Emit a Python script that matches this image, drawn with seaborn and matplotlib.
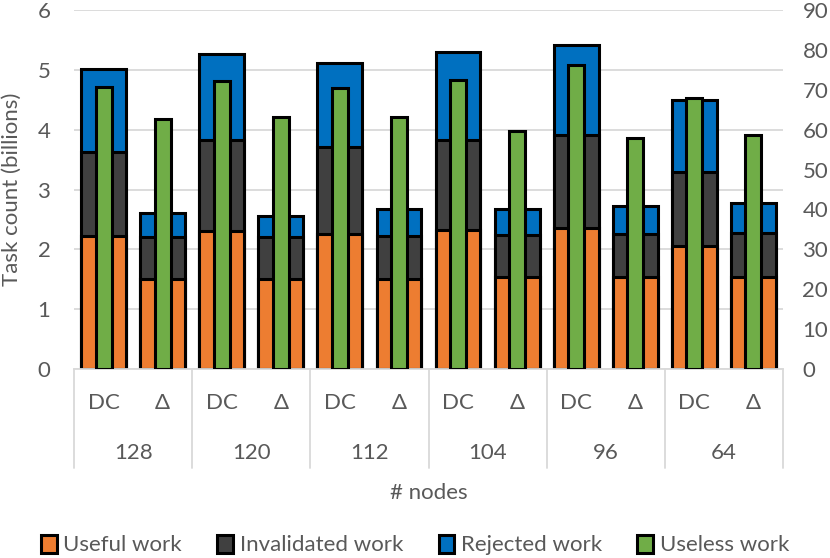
import matplotlib
matplotlib.use("Agg")
import numpy as np
import pandas as pd
import matplotlib.pyplot as plt
import seaborn as sns
from matplotlib.patches import Patch
from matplotlib.transforms import blended_transform_factory

# data
nodes = ["128", "120", "112", "104", "96", "64"]
methods = ["DC", "Δ"]
useful = [2.23, 1.51, 2.31, 1.51, 2.26, 1.51, 2.32, 1.53, 2.35, 1.53, 2.05, 1.54]
invalidated = [1.40, 0.69, 1.51, 0.70, 1.45, 0.72, 1.50, 0.71, 1.56, 0.73, 1.25, 0.74]
rejected = [1.38, 0.40, 1.45, 0.34, 1.40, 0.45, 1.47, 0.43, 1.50, 0.47, 1.20, 0.50]
useless_pct = [70.6, 62.7, 72.3, 63.1, 70.4, 63.3, 72.4, 59.7, 76.3, 58.0, 67.9, 58.7]

labels = [f"{n} {m}" for n in nodes for m in methods]
df = pd.DataFrame({
    "label": labels,
    "useful": useful,
    "invalidated": invalidated,
    "rejected": rejected,
    "useless": useless_pct,
})
df["lvl2"] = df["useful"] + df["invalidated"]
df["lvl3"] = df["lvl2"] + df["rejected"]

C_USEFUL = "#ED7D31"
C_INVAL = "#404040"
C_REJ = "#0070C0"
C_USELESS = "#70AD47"
TXT = "#595959"
GRID = "#D9D9D9"
FS = 16

sns.set_theme(style="white")
plt.rcParams["font.family"] = ["Lato", "DejaVu Sans"]

fig = plt.figure(figsize=(8.3, 5.58), dpi=100)
ax = fig.add_axes([74 / 830, 1 - 369 / 558, (783 - 74) / 830, (369 - 10) / 558])

# stacked bars: draw cumulative totals back to front
bar_kw = dict(x="label", order=labels, width=0.76, edgecolor="black",
              linewidth=2.2, saturation=1, ax=ax)
sns.barplot(data=df, y="lvl3", color=C_REJ, **bar_kw)
sns.barplot(data=df, y="lvl2", color=C_INVAL, **bar_kw)
sns.barplot(data=df, y="useful", color=C_USEFUL, **bar_kw)

ax.set_ylim(0, 6)
ax.set_xlim(-0.5, len(labels) - 0.5)
ax.set_yticks(np.arange(0, 7, 1))
ax.yaxis.grid(True, color=GRID, lw=1.3)
ax.set_axisbelow(True)
for s in ax.spines.values():
    s.set_visible(False)
ax.spines["bottom"].set_visible(True)
ax.spines["bottom"].set_color(GRID)
ax.spines["bottom"].set_linewidth(1.3)
ax.tick_params(axis="y", length=0, pad=17, labelsize=FS, labelcolor=TXT)
ax.set_xticks([])
ax.set_xlabel("")
ax.set_ylabel("Task count (billions)", fontsize=FS, color=TXT)
ax.yaxis.set_label_coords(-(74 - 22) / 709, 0.5)

# useless work on the secondary axis
ax2 = ax.twinx()
sns.barplot(data=df, x="label", y="useless", order=labels, width=0.27,
            color=C_USELESS, edgecolor="black", linewidth=2.2, saturation=1, ax=ax2)
ax2.set_ylim(0, 90)
ax2.set_xlim(-0.5, len(labels) - 0.5)
ax2.set_yticks(np.arange(0, 91, 10))
for s in ax2.spines.values():
    s.set_visible(False)
ax2.tick_params(axis="y", length=0, pad=14, labelsize=FS, labelcolor=TXT)
ax2.set_ylabel("")
ax2.set_xlabel("")
ax2.set_xticks([])

# two-level category axis
trans = blended_transform_factory(ax.transData, ax.transAxes)
for i, lab in enumerate(labels):
    ax.text(i, -0.095, lab.split(" ")[1], transform=trans, ha="center", va="center",
            fontsize=FS, color=TXT)
for g, n in enumerate(nodes):
    ax.text(2 * g + 0.5, -0.234, n, transform=trans, ha="center", va="center",
            fontsize=FS, color=TXT)
for g in range(len(nodes) + 1):
    xg = 2 * g - 0.5
    ax.plot([xg, xg], [0, -0.276], transform=trans, color=GRID, lw=1.3, clip_on=False)
ax.text(0.5, -0.345, "# nodes", transform=ax.transAxes, ha="center", va="center",
        fontsize=FS, color=TXT)

handles = [Patch(facecolor=c, edgecolor="black", linewidth=2.2, label=l)
           for c, l in [(C_USEFUL, "Useful work"), (C_INVAL, "Invalidated work"),
                        (C_REJ, "Rejected work"), (C_USELESS, "Useless work")]]
leg = fig.legend(handles=handles, loc="center", bbox_to_anchor=(0.5, 1 - 545 / 558),
                 ncol=4, frameon=False, fontsize=FS, handlelength=0.7, handleheight=0.9,
                 handletextpad=0.3, columnspacing=1.6)
for t in leg.get_texts():
    t.set_color(TXT)

fig.savefig("out.png", dpi=100)
